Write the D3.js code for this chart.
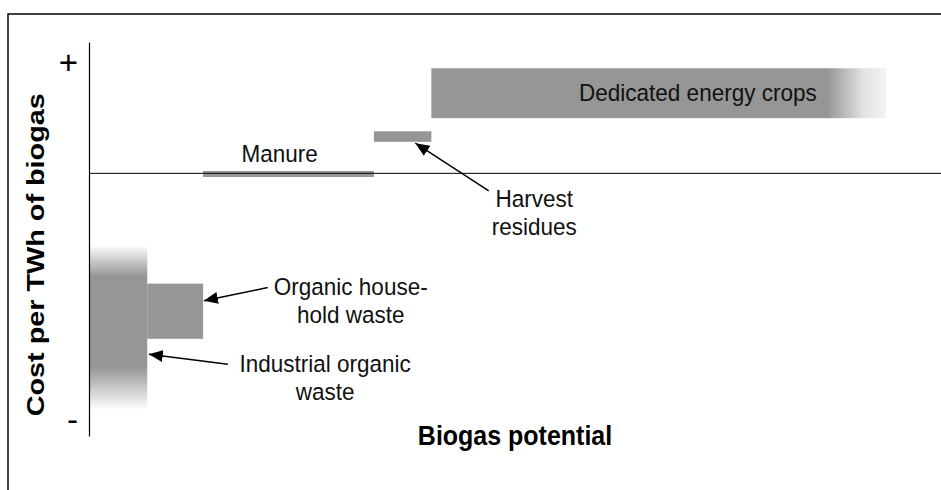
<!DOCTYPE html>
<html>
<head>
<meta charset="utf-8">
<script src="https://cdn.jsdelivr.net/npm/d3@7"></script>
<style>
  html, body { margin: 0; padding: 0; background: #fff; }
  svg { display: block; font-family: Arial, "Liberation Sans", Helvetica, sans-serif; }
</style>
</head>
<body>
<svg id="chart" width="941" height="490"></svg>
<script>
// Biogas sources, in merit order (potential in arbitrary units, cost relative to zero)
const sources = ['Industrial organic waste', 'Organic household waste', 'Manure', 'Harvest residues', 'Dedicated energy crops'];
const potentials = [7.3, 7.0, 21.4, 7.2, 57.0];
const costLow = [-90, -63, -1.4, 12, 21];
const costHigh = [-28, -42, 0.9, 16, 40];
// 'v' = fades out top and bottom, 'h' = fades out at the right end, '' = solid
const fades = ['v', '', '', '', 'h'];

const tickValues = [42, -94];
const tickLabels = ['+', '-'];

const xTitle = 'Biogas potential';
const yTitle = 'Cost per TWh of biogas';

const width = 941;
const height = 490;
const grey = '#969696';
// source picture is slightly stretched vertically
const stretch = 1.07;

const svg = d3.select('#chart');
const x = d3.scaleLinear().domain([0, 100]).range([89, 887]);
const y = d3.scaleLinear().domain([-100, 50]).range([436, 42]);

const starts = [0, ...d3.cumsum(potentials)];
const bars = sources.map((name, i) => ({
  name,
  x0: starts[i],
  x1: starts[i + 1],
  lo: costLow[i],
  hi: costHigh[i],
  fade: fades[i],
}));

// gradients
const defs = svg.append('defs');
const vGrad = defs.append('linearGradient')
  .attr('id', 'fade-v')
  .attr('x1', 0).attr('y1', 0).attr('x2', 0).attr('y2', 1);
[[0, '#fafafa'], [0.18, grey], [0.74, grey], [1, '#ffffff']].forEach(([o, c]) =>
  vGrad.append('stop').attr('offset', o).attr('stop-color', c));

const hGrad = defs.append('linearGradient')
  .attr('id', 'fade-h')
  .attr('x1', 0).attr('y1', 0).attr('x2', 1).attr('y2', 0);
[[0, grey], [0.87, grey], [0.95, '#e2e2e2'], [1, '#f4f4f4']].forEach(([o, c]) =>
  hGrad.append('stop').attr('offset', o).attr('stop-color', c));

defs.append('marker')
  .attr('id', 'arrow')
  .attr('markerUnits', 'userSpaceOnUse')
  .attr('viewBox', '0 -6 14 12')
  .attr('refX', 14).attr('refY', 0)
  .attr('markerWidth', 14).attr('markerHeight', 12)
  .attr('orient', 'auto')
  .append('path')
  .attr('d', 'M0,-6L14,0L0,6Z')
  .attr('fill', '#000');

// outer frame (top and left edges only)
svg.append('path')
  .attr('d', `M8,${height}V14H${width}`)
  .attr('fill', 'none')
  .attr('stroke', '#000')
  .attr('stroke-width', 1.5);

// bars
svg.append('g')
  .selectAll('rect')
  .data(bars)
  .join('rect')
  .attr('x', d => x(d.x0))
  .attr('y', d => y(d.hi))
  .attr('width', d => x(d.x1) - x(d.x0))
  .attr('height', d => y(d.lo) - y(d.hi))
  .attr('fill', d => d.fade === 'v' ? 'url(#fade-v)' : d.fade === 'h' ? 'url(#fade-h)' : grey);

// zero line
svg.append('line')
  .attr('x1', x(0)).attr('x2', width)
  .attr('y1', y(0)).attr('y2', y(0))
  .attr('stroke', '#000').attr('stroke-width', 1);

// y axis
const yAxis = d3.axisLeft(y)
  .tickValues(tickValues)
  .tickSize(0)
  .tickPadding(11)
  .tickFormat((d, i) => tickLabels[i]);
const gy = svg.append('g')
  .attr('transform', `translate(${x(0)},0)`)
  .call(yAxis);
gy.select('.domain').attr('stroke', '#000').attr('stroke-width', 1.2);
gy.selectAll('.tick text')
  .attr('font-size', 33)
  .attr('font-family', 'Arial, "Liberation Sans", sans-serif')
  .attr('fill', '#000');

// bar labels and callouts (anchored in data space)
const labels = [
  {lines: ['Dedicated energy crops'], x: 76.3, y: 27.5},
  {lines: ['Manure'], x: 23.9, y: 4.3},
  {lines: ['Harvest', 'residues'], x: 55.8, y: -12.8},
  {lines: ['Organic house-', 'hold waste'], x: 32.8, y: -46.2},
  {lines: ['Industrial organic', 'waste'], x: 29.6, y: -75.7},
];
const arrows = [
  {from: [22.4, -43.5], to: [14.4, -48.5]},
  {from: [17.4, -72.7], to: [7.5, -68.9]},
  {from: [50.1, -6.7], to: [40.9, 11.5]},
];

const lineHeight = 28 / stretch;
svg.append('g')
  .selectAll('text')
  .data(labels)
  .join('text')
  .attr('text-anchor', 'middle')
  .attr('font-size', 22.5)
  .attr('fill', '#111')
  .attr('transform', d => `translate(${x(d.x)},${y(d.y)}) scale(1,${stretch})`)
  .selectAll('tspan')
  .data(d => d.lines)
  .join('tspan')
  .attr('x', 0)
  .attr('y', (d, i) => i * lineHeight)
  .text(d => d);

svg.append('g')
  .selectAll('line')
  .data(arrows)
  .join('line')
  .attr('x1', d => x(d.from[0])).attr('y1', d => y(d.from[1]))
  .attr('x2', d => x(d.to[0])).attr('y2', d => y(d.to[1]))
  .attr('stroke', '#000')
  .attr('stroke-width', 1.5)
  .attr('marker-end', 'url(#arrow)');

// axis titles
svg.append('text')
  .attr('transform', `translate(515,445) scale(1,${stretch})`)
  .attr('text-anchor', 'middle')
  .attr('font-size', 25)
  .attr('font-weight', 'bold')
  .text(xTitle);

svg.append('text')
  .attr('transform', `translate(44,${y(-31)}) rotate(-90) scale(1.2,1)`)
  .attr('text-anchor', 'middle')
  .attr('font-size', 24)
  .attr('font-weight', 'bold')
  .text(yTitle);
</script>
</body>
</html>
